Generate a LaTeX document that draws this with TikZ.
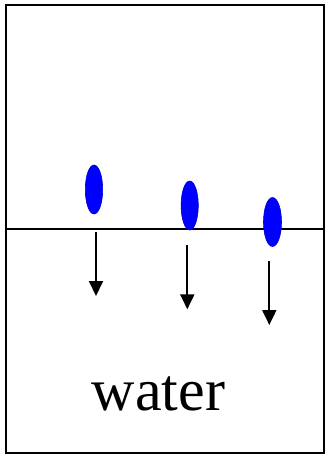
\documentclass[tikz,border=0pt]{standalone}
\usepackage{fontspec}
\setmainfont{Liberation Serif}
\usetikzlibrary{arrows.meta}

\begin{document}
\begin{tikzpicture}[x=1pt, y=-1pt, >={Triangle[length=15pt,width=14pt]}]
	\useasboundingbox (0,0) rectangle (325,456);
	\draw[line width=2pt] (5.5,5) rectangle (323.5,453);
	\draw[line width=2pt] (5.5,229.3) -- (323.5,229.3);
	\fill[blue, draw=blue!80!black, line width=0.6pt] (94,189.5) ellipse (8.7 and 24.5);
	\fill[blue, draw=blue!80!black, line width=0.6pt] (189.7,205.5) ellipse (8.6 and 24.5);
	\fill[blue, draw=blue!80!black, line width=0.6pt] (272.5,222) ellipse (9 and 24.5);
	\draw[->, line width=2pt] (96,232) -- (96,296);
	\draw[->, line width=2pt] (187.3,245) -- (187.3,309.3);
	\draw[->, line width=2pt] (269.3,261) -- (269.3,325);
	\node[anchor=base west, inner sep=0, font=\fontsize{60}{60}\selectfont] (label) at (91.7,410.7) {water};
\end{tikzpicture}
\end{document}
